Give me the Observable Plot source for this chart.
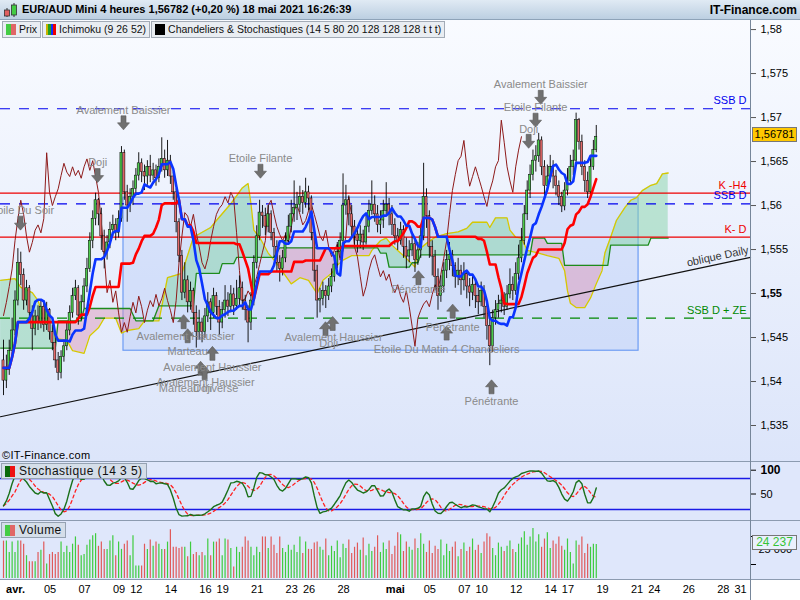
<!DOCTYPE html>
<html lang="fr"><head><meta charset="utf-8">
<script src="https://cdn.jsdelivr.net/npm/d3@7"></script>
<script src="https://cdn.jsdelivr.net/npm/@observablehq/plot@0.6"></script>
<style>
html,body{margin:0;padding:0}
body{width:800px;height:600px;overflow:hidden;position:relative;font-family:"Liberation Sans",Arial,sans-serif;background:#fff}
.abs{position:absolute}
svg{display:block}
#hdr{left:0;top:0;width:800px;height:20px;background:linear-gradient(#e0eaf4,#bccfe1);border-bottom:1px solid #8ea3b8;box-sizing:border-box}
#hdr .t{position:absolute;left:22px;top:3px;font-weight:bold;font-size:11px;color:#000;white-space:nowrap}
#hdr .r{position:absolute;right:3px;top:3px;font-weight:bold;font-size:12px;color:#000}
#main{left:0;top:20px;width:800px;height:441px;background:linear-gradient(#f9fbff,#dce5fa)}
#stoch{left:0;top:461px;width:800px;height:60px;background:#dfe7fb}
#vol{left:0;top:521px;width:800px;height:79px;background:linear-gradient(#dfe7fb 0,#dfe7fb 58px,#ffffff 58px)}
.sep{position:absolute;left:0;width:800px;height:1px;background:#8c9bb0}
#tabs{position:absolute;left:2px;top:21px;display:flex;gap:1px}
.tab{position:relative;height:17px;background:#e9edf2;border:1px solid #a3abb6;box-sizing:border-box;font-size:10.5px;line-height:15px;padding-left:16px;padding-right:3px;color:#111;white-space:nowrap}
.ptab{position:absolute;height:16px;background:#d5dee9;border:1px solid #95a2b2;box-sizing:border-box;font-size:12px;letter-spacing:0.45px;line-height:14px;padding-left:17px;padding-right:3px;color:#111;white-space:nowrap}
.ico{position:absolute;left:3px;top:2px;width:10px;height:11px}
.pbox{position:absolute;left:752px;width:45px;height:15px;box-sizing:border-box;border:1px solid #777;font-size:11px;line-height:13px;text-align:center}
</style></head><body>
<div id="main" class="abs"></div>
<div id="stoch" class="abs"></div>
<div id="vol" class="abs"></div>
<div class="sep" style="top:461px"></div>
<div class="sep" style="top:520px"></div>
<div class="sep" style="top:579px"></div>
<div class="abs" style="left:750px;top:20px;width:1px;height:580px;background:#76869a"></div>
<div id="hdr" class="abs">
  <svg class="abs" style="left:3px;top:2px" width="16" height="16"><line x1="4" y1="6" x2="4" y2="15" stroke="#333"/><rect x="1.5" y="8" width="5" height="6" fill="#e06060" stroke="#333" stroke-width="0.8"/><line x1="11" y1="1" x2="11" y2="15" stroke="#333"/><rect x="8.5" y="3" width="5" height="10" fill="#44cc44" stroke="#333" stroke-width="0.8"/></svg>
  <div class="t">EUR/AUD Mini 4 heures 1,56782 (+0,20 %) 18 mai 2021 16:26:39</div>
  <div class="r">IT-Finance.com</div>
</div>
<div id="tabs">
<div class="tab"><div class="ico" style="background:linear-gradient(90deg,#44cc44 50%,#e06666 50%)"></div>Prix</div>
<div class="tab"><div class="ico" style="background:linear-gradient(90deg,#c8b400 0 25%,#22a022 25% 50%,#1030ff 50% 75%,#ee0000 75%)"></div>Ichimoku (9 26 52)</div>
<div class="tab"><div class="ico" style="background:#000"></div>Chandeliers &amp; Stochastiques (14 5 80 20 128 128 128 t t t)</div>
</div>
<div class="abs" style="left:2px;top:449px;font-size:11px;letter-spacing:0.3px;color:#000">©IT-Finance.com</div>
<div class="ptab" style="left:1px;top:463px"><div class="ico" style="background:linear-gradient(90deg,#0a6a0a 50%,#ee1111 50%)"></div>Stochastique (14 3 5)</div>
<div class="ptab" style="left:1px;top:522px"><div class="ico" style="background:linear-gradient(90deg,#44cc44 50%,#e06666 50%)"></div>Volume</div>
<script>
// ---------- data (4h candles, Mar 31 08:00 -> May 18 16:00) ----------
const firstOpen = 1.5424;
const closes = [
1.5401,1.5413,1.5435,1.5458,1.5492,1.5535,1.5521,1.5492,1.5506,1.5478,
1.5460,1.5474,1.5467,1.5485,1.5464,1.5481,1.5456,1.5444,1.5424,1.5410,
1.5428,1.5440,1.5458,1.5478,1.5497,1.5506,1.5475,1.5490,1.5508,1.5528,
1.5560,1.5585,1.5606,1.5590,1.5565,1.5547,1.5558,1.5572,1.5578,1.5569,
1.5585,1.5660,1.5615,1.5600,1.5610,1.5619,1.5634,1.5648,1.5638,1.5633,
1.5644,1.5634,1.5640,1.5631,1.5644,1.5653,1.5640,1.5651,1.5633,1.5615,
1.5581,1.5543,1.5501,1.5515,1.5490,1.5503,1.5478,1.5456,1.5467,1.5456,
1.5474,1.5490,1.5478,1.5497,1.5485,1.5467,1.5481,1.5492,1.5485,1.5499,
1.5486,1.5494,1.5506,1.5492,1.5481,1.5467,1.5492,1.5535,1.5565,1.5592,
1.5588,1.5576,1.5590,1.5569,1.5553,1.5535,1.5528,1.5540,1.5560,1.5576,
1.5590,1.5597,1.5601,1.5610,1.5603,1.5615,1.5608,1.5569,1.5526,1.5492,
1.5494,1.5503,1.5497,1.5508,1.5519,1.5533,1.5547,1.5560,1.5600,1.5606,
1.5590,1.5576,1.5567,1.5560,1.5567,1.5558,1.5576,1.5594,1.5601,1.5590,
1.5578,1.5583,1.5594,1.5601,1.5590,1.5578,1.5565,1.5560,1.5572,1.5553,
1.5542,1.5549,1.5556,1.5538,1.5549,1.5565,1.5610,1.5588,1.5553,1.5542,
1.5519,1.5497,1.5508,1.5526,1.5538,1.5544,1.5531,1.5519,1.5526,1.5515,
1.5522,1.5508,1.5501,1.5510,1.5497,1.5490,1.5503,1.5485,1.5463,1.5440,
1.5472,1.5481,1.5488,1.5492,1.5485,1.5499,1.5510,1.5503,1.5522,1.5540,
1.5560,1.5590,1.5617,1.5635,1.5651,1.5656,1.5674,1.5644,1.5622,1.5633,
1.5644,1.5633,1.5622,1.5610,1.5599,1.5617,1.5628,1.5644,1.5651,1.5697,
1.5672,1.5644,1.5628,1.5615,1.5644,1.5663,1.56782];
const highs = [
1.5447,1.5430,1.5447,1.5472,1.5503,1.5551,1.5547,1.5528,1.5515,1.5509,
1.5486,1.5481,1.5486,1.5492,1.5492,1.5490,1.5483,1.5464,1.5452,1.5433,
1.5435,1.5447,1.5467,1.5486,1.5506,1.5515,1.5509,1.5498,1.5517,1.5540,
1.5569,1.5594,1.5614,1.5608,1.5597,1.5572,1.5566,1.5581,1.5589,1.5585,
1.5594,1.5667,1.5663,1.5623,1.5619,1.5628,1.5642,1.5660,1.5653,1.5646,
1.5651,1.5657,1.5648,1.5646,1.5653,1.5677,1.5663,1.5674,1.5657,1.5638,
1.5619,1.5585,1.5549,1.5535,1.5520,1.5513,1.5506,1.5486,1.5481,1.5472,
1.5483,1.5501,1.5494,1.5506,1.5501,1.5492,1.5490,1.5509,1.5501,1.5509,
1.5506,1.5515,1.5520,1.5513,1.5498,1.5486,1.5501,1.5543,1.5577,1.5606,
1.5600,1.5597,1.5600,1.5594,1.5574,1.5560,1.5543,1.5549,1.5569,1.5589,
1.5606,1.5628,1.5615,1.5622,1.5617,1.5631,1.5622,1.5611,1.5574,1.5532,
1.5506,1.5513,1.5509,1.5517,1.5528,1.5543,1.5558,1.5569,1.5636,1.5623,
1.5611,1.5600,1.5583,1.5574,1.5577,1.5572,1.5589,1.5606,1.5628,1.5611,
1.5600,1.5594,1.5606,1.5626,1.5608,1.5600,1.5585,1.5574,1.5581,1.5577,
1.5563,1.5560,1.5566,1.5560,1.5558,1.5576,1.5648,1.5619,1.5594,1.5560,
1.5549,1.5528,1.5520,1.5535,1.5549,1.5558,1.5549,1.5535,1.5540,1.5532,
1.5535,1.5526,1.5517,1.5520,1.5515,1.5506,1.5513,1.5509,1.5492,1.5472,
1.5481,1.5492,1.5498,1.5503,1.5501,1.5509,1.5528,1.5519,1.5535,1.5555,
1.5574,1.5600,1.5628,1.5646,1.5663,1.5668,1.5682,1.5678,1.5651,1.5646,
1.5657,1.5651,1.5640,1.5628,1.5615,1.5626,1.5642,1.5657,1.5663,1.5705,
1.5699,1.5680,1.5651,1.5638,1.5657,1.5674,1.5691];
const lows = [
1.5384,1.5392,1.5407,1.5430,1.5452,1.5486,1.5509,1.5481,1.5486,1.5469,
1.5435,1.5452,1.5458,1.5460,1.5456,1.5458,1.5447,1.5435,1.5415,1.5401,
1.5403,1.5422,1.5435,1.5452,1.5472,1.5492,1.5464,1.5469,1.5483,1.5501,
1.5524,1.5551,1.5577,1.5577,1.5549,1.5528,1.5538,1.5551,1.5565,1.5560,
1.5563,1.5581,1.5606,1.5581,1.5592,1.5600,1.5611,1.5628,1.5626,1.5617,
1.5623,1.5626,1.5628,1.5622,1.5626,1.5638,1.5631,1.5633,1.5624,1.5606,
1.5569,1.5535,1.5492,1.5494,1.5478,1.5481,1.5464,1.5438,1.5447,1.5444,
1.5449,1.5467,1.5458,1.5472,1.5475,1.5452,1.5460,1.5472,1.5474,1.5478,
1.5475,1.5481,1.5486,1.5481,1.5469,1.5444,1.5458,1.5486,1.5528,1.5560,
1.5574,1.5566,1.5569,1.5560,1.5540,1.5524,1.5513,1.5520,1.5535,1.5555,
1.5569,1.5581,1.5583,1.5592,1.5590,1.5597,1.5594,1.5560,1.5513,1.5472,
1.5478,1.5486,1.5483,1.5492,1.5501,1.5513,1.5528,1.5540,1.5555,1.5589,
1.5577,1.5563,1.5555,1.5546,1.5551,1.5549,1.5555,1.5569,1.5589,1.5581,
1.5569,1.5567,1.5574,1.5589,1.5577,1.5566,1.5555,1.5549,1.5555,1.5540,
1.5528,1.5535,1.5542,1.5524,1.5532,1.5540,1.5560,1.5574,1.5540,1.5520,
1.5503,1.5481,1.5490,1.5501,1.5517,1.5526,1.5519,1.5506,1.5509,1.5498,
1.5503,1.5494,1.5485,1.5492,1.5483,1.5476,1.5485,1.5472,1.5447,1.5418,
1.5433,1.5464,1.5472,1.5478,1.5475,1.5481,1.5494,1.5492,1.5498,1.5515,
1.5535,1.5555,1.5583,1.5608,1.5628,1.5638,1.5649,1.5634,1.5611,1.5615,
1.5626,1.5619,1.5611,1.5600,1.5592,1.5594,1.5611,1.5623,1.5634,1.5645,
1.5663,1.5634,1.5615,1.5608,1.5611,1.5640,1.5660];
const volumes = [
26700,26700,18600,26000,18600,26700,26700,24500,16300,11900,
11900,11900,18600,20100,26000,10400,17100,18600,17100,18600,
26000,18600,23000,18600,24500,29700,23800,16300,17100,23800,
27500,30500,32000,23000,26000,20800,20800,26700,30500,16300,
26000,20800,24500,26700,16300,30500,8900,8900,8900,24500,
20800,27500,23000,26000,24500,20800,20800,26000,34900,22300,
22300,21500,22300,22300,15600,26000,17100,18600,16300,18600,
16300,28200,16300,26000,26000,28200,16300,28200,27500,21500,
8200,22300,18600,22300,29700,26700,22300,16300,22300,18600,
29700,29700,21500,29700,23800,17800,29700,21500,18600,23800,
20100,23800,18600,29700,
17800,26000,20800,20800,25300,26000,22300,20100,28200,16300,
23000,19300,26700,14900,24500,21500,27500,17800,22300,25300,
20100,29000,16300,24500,19300,22300,30500,18600,25300,20800,
26700,17100,23000,32700,31200,19300,26000,22300,20100,28200,
21500,32000,24500,18600,26700,17800,23000,20800,27500,16300,
24500,19300,22300,26000,15600,20800,25300,19300,22300,28200,
20100,23800,17800,26000,32000,29700,21500,16300,25300,22300,
19300,23000,26700,20800,18600,24500,29000,33400,23800,29700,
35700,26000,31200,22300,28200,32700,21500,26700,24500,29700,
23000,20100,28200,18600,10400,26700,23800,29700,17800,24500,
22300,24500,24237];

// Ichimoku cloud lines (candle index, price), projected 26 candles ahead
const ssaIdx = [-1,4,6,10,12,14,17,18,22,24,28,30,33,35,39,41,43,47,49,54,57,62,66,72,74,79,83,85,86,87,89,92,95,100,103,106,109,111,114,116,118,121,127,128,131,133,135,137,140,143,144,147,150,154,158,161,163,168,169,171,175,176,178,180,182,186,189,193,195,196,197,199,202,204,206,208,209,211,213,216,218,220,222,225,227,229,231];
const ssaVal = [1.5515,1.5517,1.5507,1.5501,1.5492,1.5472,1.5467,1.5449,1.5447,1.5435,1.5432,1.5452,1.5461,1.5472,1.5472,1.5455,1.5458,1.5460,1.5469,1.5469,1.5518,1.5523,1.5564,1.5575,1.5583,1.5602,1.5620,1.5625,1.5602,1.5572,1.5564,1.5546,1.5534,1.5511,1.5518,1.5515,1.5500,1.5515,1.5523,1.5532,1.5538,1.5543,1.5543,1.5549,1.5560,1.5563,1.5555,1.5549,1.5540,1.5530,1.5549,1.5557,1.5564,1.5568,1.5570,1.5574,1.5581,1.5581,1.5575,1.5586,1.5586,1.5572,1.5564,1.5563,1.5549,1.5546,1.5543,1.5540,1.5526,1.5503,1.5489,1.5484,1.5484,1.5495,1.5511,1.5526,1.5546,1.5564,1.5583,1.5598,1.5606,1.5609,1.5617,1.5623,1.5625,1.5636,1.5637];
const ssbIdx = [-1,18,19,27,28,44,46,52,54,66,67,75,76,80,81,94,96,130,131,133,134,141,142,144,145,183,184,188,189,194,195,210,211,224,225,231];
const ssbVal = [1.5438,1.5438,1.5469,1.5469,1.5483,1.5483,1.5469,1.5469,1.5486,1.5486,1.5523,1.5523,1.5534,1.5534,1.5541,1.5541,1.5552,1.5552,1.5546,1.5546,1.5530,1.5530,1.5535,1.5535,1.5544,1.5544,1.5563,1.5563,1.5557,1.5557,1.5532,1.5532,1.5555,1.5555,1.5563,1.5563];

// Drawn levels
const levelPrices = [1.5710, 1.5614, 1.5602, 1.5564, 1.5472];
const levelLabels = ["SSB D", "K -H4", "SSB D", "K- D", "SSB D + ZE"];
const levelColors = ["#0000ee", "#ee0000", "#0000ee", "#ee0000", "#008800"];
const levelDashed = [true, false, true, false, true];
const obliqueIdx = [-1.04, 259.6];
const obliqueVal = [1.5360, 1.5541];
const zoneIdx = [41.7, 220.7];
const zoneVal = [1.5435, 1.5609];

// Candlestick pattern annotations
const downArrowIdx = [41.7, 32.7, 5.9, 89.3, 186.7, 184.9, 182.5];
const downArrowVal = [1.5694, 1.5634, 1.5580, 1.5639, 1.5723, 1.5697, 1.5673];
const downText = ["Avalement Baissier", "Doji", "Etoile Du Soir", "Etoile Filante", "Avalement Baissier", "Etoile Filante", "Doji"];
const downTextVal = [1.5708, 1.5649, 1.5594, 1.5653, 1.5738, 1.5711, 1.5686];
const upArrowIdx = [62.6, 64.0, 72.6, 68.5, 69.9, 111.9, 114.4, 144.2, 156.1, 154.0, 169.6];
const upArrowVal = [1.5468, 1.5452, 1.5432, 1.5415, 1.5410, 1.5460, 1.5466, 1.5518, 1.5480, 1.5455, 1.5394];
const upText = ["Avalement Haussier", "Marteau", "Avalement Haussier", "Avalement Haussier", "Marteau Inverse", "Doji", "Avalement Haussier", "Doji", "Pénétrante", "Pénétrante", "Etoile Du Matin 4 Chandeliers", "Pénétrante"];
const upTextIdx = [63.3, 64.0, 72.6, 70.2, 67.8, 69.2, 114.7, 113.0, 144.2, 156.1, 154.0, 169.6];
const upTextVal = [1.5451, 1.5434, 1.5416, 1.5399, 1.5392, 1.5392, 1.5450, 1.5443, 1.5505, 1.5461, 1.5436, 1.5377];

// Axis ticks
const priceTicks = [1.535, 1.54, 1.545, 1.555, 1.56, 1.565, 1.57, 1.575, 1.58];
const boldPriceTick = [1.55];
const tickLabels = ["avr.","05","07","09","12","14","16","19","21","23","26","28","mai","05","07","10","12","14","17","19","21","24","26","28","31"];
const tickTradingDay = [0,2,4,6,7,9,11,12,14,16,17,19,22,24,26,27,29,31,32,34,36,37,39,41,42];
const firstDayCandle = 4.17, candlesPerDay = 6;
const lastPriceLabel = "1,56781", lastPriceVal = 1.56781;
const lastVolumeLabel = "24 237";

// ---------- build ----------
const candles = closes.map((c, i) => {
  const o = i === 0 ? firstOpen : closes[i - 1];
  return {i, open: o, close: c, high: highs[i], low: lows[i], vol: volumes[i], up: c >= o};
});
function midWin(i, n) {
  const a = Math.max(0, i - n + 1);
  let h = -Infinity, l = Infinity;
  for (let k = a; k <= i; k++) { h = Math.max(h, highs[k]); l = Math.min(l, lows[k]); }
  return (h + l) / 2;
}
const tenkan = candles.map(d => ({i: d.i, p: midWin(d.i, 9)}));
const kijun = candles.map(d => ({i: d.i, p: midWin(d.i, 26)}));
const chikou = closes.slice(26).map((c, k) => ({i: k, p: c}));
// stochastic 14 3 5
const raw = candles.map(d => {
  const a = Math.max(0, d.i - 13);
  let h = -Infinity, l = Infinity;
  for (let k = a; k <= d.i; k++) { h = Math.max(h, highs[k]); l = Math.min(l, lows[k]); }
  return h === l ? 50 : (d.close - l) / (h - l) * 100;
});
const sma = (arr, n) => arr.map((v, i) => { const a = Math.max(0, i - n + 1); return d3.mean(arr.slice(a, i + 1)); });
const kLine = sma(raw, 3);
const dLine = sma(kLine, 5);
const stoch = candles.map((d, i) => ({i, k: kLine[i], d: dLine[i]}));

const ssaPts = ssaIdx.map((x, k) => ({i: x, p: ssaVal[k]}));
const ssbPts = ssbIdx.map((x, k) => ({i: x, p: ssbVal[k]}));
const ssaF = d3.scaleLinear().domain(ssaIdx).range(ssaVal);
const ssbF = d3.scaleLinear().domain(ssbIdx).range(ssbVal);
const cloud = d3.range(-1, 231.01, 0.2).map(x => ({i: x, a: ssaF(x), b: ssbF(x)}));

const xDomain = [-1.043, 259.6];
const X = {domain: xDomain, range: [0, 750], axis: null};
const fmtP = d => d.toFixed(3).replace(/0+$/, "").replace(".", ",");
const levels = levelPrices.map((p, k) => ({p, label: levelLabels[k], color: levelColors[k], dashed: levelDashed[k]}));
const oblique = obliqueIdx.map((x, k) => ({i: x, p: obliqueVal[k]}));
const arrowDown = {draw(c) { c.moveTo(-2.5,-7); c.lineTo(2.5,-7); c.lineTo(2.5,0); c.lineTo(6,0); c.lineTo(0,7); c.lineTo(-6,0); c.lineTo(-2.5,0); c.closePath(); }};
const arrowUp = {draw(c) { c.moveTo(-2.5,7); c.lineTo(2.5,7); c.lineTo(2.5,0); c.lineTo(6,0); c.lineTo(0,-7); c.lineTo(-6,0); c.lineTo(-2.5,0); c.closePath(); }};
const dArrows = downArrowIdx.map((x, k) => ({i: x, p: downArrowVal[k]}));
const dTexts = downText.map((t, k) => ({i: downArrowIdx[k], p: downTextVal[k], t}));
const uArrows = upArrowIdx.map((x, k) => ({i: x, p: upArrowVal[k]}));
const uTexts = upText.map((t, k) => ({i: upTextIdx[k], p: upTextVal[k], t}));
const annoFont = {fill: "#8a8a8a", fontSize: 11, fontFamily: "Liberation Sans, Arial, sans-serif"};

const main = Plot.plot({
  width: 800, height: 441, marginLeft: 0, marginRight: 50, marginTop: 0, marginBottom: 0,
  style: {background: "transparent", fontFamily: "Liberation Sans, Arial, sans-serif"},
  x: X,
  y: {domain: [1.53091, 1.58103], range: [441, 0], axis: null},
  marks: [
    Plot.rect([0], {x1: () => zoneIdx[0], x2: () => zoneIdx[1], y1: () => zoneVal[0], y2: () => zoneVal[1], fill: "#a9c1f7", fillOpacity: 0.32, stroke: "#6d9cf3", strokeWidth: 1.2}),
    Plot.areaY(cloud, {x: "i", y1: "b", y2: d => Math.max(d.a, d.b), fill: "#86d3a8", fillOpacity: 0.5}),
    Plot.areaY(cloud, {x: "i", y1: "a", y2: d => Math.max(d.a, d.b), fill: "#de93b4", fillOpacity: 0.45}),
    Plot.line(ssaPts, {x: "i", y: "p", stroke: "#d6c800", strokeWidth: 1.3}),
    Plot.line(ssbPts, {x: "i", y: "p", stroke: "#1c8c1c", strokeWidth: 1.3}),
    Plot.ruleY(levels.filter(d => d.dashed), {y: "p", stroke: "color", strokeWidth: 1.2, strokeDasharray: "10,9"}),
    Plot.ruleY(levels.filter(d => !d.dashed), {y: "p", stroke: "color", strokeWidth: 1.2}),
    Plot.line(oblique, {x: "i", y: "p", stroke: "#111", strokeWidth: 1.2}),
    Plot.line(chikou, {x: "i", y: "p", stroke: "#8e1a1a", strokeWidth: 1}),
    Plot.ruleX(candles, {x: "i", y1: "low", y2: "high", stroke: "#000", strokeWidth: 0.9}),
    Plot.rect(candles, {x1: d => d.i - 0.37, x2: d => d.i + 0.37, y1: "open", y2: "close", fill: d => d.up ? "#4ccb4c" : "#e46a6a", stroke: "#000", strokeWidth: 0.5}),
    Plot.line(kijun, {x: "i", y: "p", stroke: "#ff0000", strokeWidth: 2.6}),
    Plot.line(tenkan, {x: "i", y: "p", stroke: "#0a34ff", strokeWidth: 2.6}),
    Plot.dot(dArrows, {x: "i", y: "p", symbol: arrowDown, fill: "#707070", stroke: "#5a5a5a", strokeWidth: 0.6}),
    Plot.dot(uArrows, {x: "i", y: "p", symbol: arrowUp, fill: "#707070", stroke: "#5a5a5a", strokeWidth: 0.6}),
    Plot.text(dTexts, {x: "i", y: "p", text: "t", ...annoFont}),
    Plot.text(uTexts, {x: "i", y: "p", text: "t", ...annoFont}),
    Plot.text(levels, {x: () => xDomain[1], y: "p", text: "label", fill: "color", fontSize: 11, textAnchor: "end", dx: -4, dy: -8}),
    Plot.text([0], {x: () => 248.2, y: () => obliqueVal[0] + (obliqueVal[1] - obliqueVal[0]) * (248.2 - obliqueIdx[0]) / (obliqueIdx[1] - obliqueIdx[0]), text: () => "oblique Daily", rotate: -12, dy: -8, fontSize: 11, fill: "#333"}),
    Plot.axisY(priceTicks, {anchor: "right", tickFormat: fmtP, tickSize: 5, tickPadding: 5, fontSize: 11, fill: "#000", stroke: "#555", label: null}),
    Plot.axisY(boldPriceTick, {anchor: "right", tickFormat: fmtP, tickSize: 5, tickPadding: 5, fontSize: 11, fontWeight: "bold", fill: "#000", stroke: "#555", label: null})
  ]
});
document.getElementById("main").appendChild(main);
const yTop = main.scale("y").apply(lastPriceVal);
const pb = document.createElement("div");
pb.className = "pbox"; pb.style.top = (20 + yTop - 9) + "px"; pb.style.background = "#ffc800"; pb.textContent = lastPriceLabel;
document.body.appendChild(pb);

const st = Plot.plot({
  width: 800, height: 60, marginLeft: 0, marginRight: 50, marginTop: 0, marginBottom: 0,
  style: {background: "transparent", fontFamily: "Liberation Sans, Arial, sans-serif"},
  x: X,
  y: {domain: [0, 100], range: [58.3, 6.7], axis: null},
  marks: [
    Plot.ruleY([80, 20], {stroke: "#1a1ae6", strokeWidth: 1.5}),
    Plot.line(stoch, {x: "i", y: "d", stroke: "#ff2222", strokeWidth: 1.3, strokeDasharray: "3,3"}),
    Plot.line(stoch, {x: "i", y: "k", stroke: "#1a701a", strokeWidth: 1.4}),
    Plot.axisY([100], {anchor: "right", tickSize: 5, tickPadding: 5, fontSize: 12, fontWeight: "bold", fill: "#000", dy: 2, label: null}),
    Plot.axisY([50], {anchor: "right", tickSize: 5, tickPadding: 5, fontSize: 11, fill: "#000", label: null})
  ]
});
document.getElementById("stoch").appendChild(st);

const tickPos = tickTradingDay.map(d => firstDayCandle + candlesPerDay * d);
const tickMap = new Map(tickPos.map((p, k) => [p, tickLabels[k]]));
const vp = Plot.plot({
  width: 800, height: 79, marginLeft: 0, marginRight: 50, marginTop: 0, marginBottom: 21,
  style: {background: "transparent", fontFamily: "Liberation Sans, Arial, sans-serif"},
  x: X,
  y: {domain: [0, 40000], range: [57, 1], axis: null},
  marks: [
    Plot.ruleX(candles, {x: "i", y1: 0, y2: "vol", stroke: d => d.up ? "#3fcc3f" : "#e05a5a", strokeWidth: 1.2}),
    Plot.axisY([10000, 30000], {anchor: "right", tickSize: 5, tickFormat: () => "", label: null}),
    Plot.text([25000], {x: () => xDomain[1], y: d => d, text: () => "25 000", dx: 8, dy: 6, textAnchor: "start", fontSize: 11, fill: "#000"}),
    Plot.axisX(tickPos.filter(p => !/[a-z]/.test(tickMap.get(p))), {anchor: "bottom", tickFormat: p => tickMap.get(p), tickSize: 0, tickPadding: 6, fontSize: 11, fill: "#000", label: null}),
    Plot.axisX(tickPos.filter(p => /[a-z]/.test(tickMap.get(p))), {anchor: "bottom", tickFormat: p => tickMap.get(p), tickSize: 0, tickPadding: 6, fontSize: 11, fontWeight: "bold", fill: "#000", label: null})
  ]
});
document.getElementById("vol").appendChild(vp);
const vTop = vp.scale("y").apply(volumes[volumes.length - 1]);
const vb = document.createElement("div");
vb.className = "pbox"; vb.style.top = (521 + vTop - 9) + "px"; vb.style.background = "#eaf0fd"; vb.style.color = "#35c435"; vb.style.fontSize = "12px"; vb.textContent = lastVolumeLabel;
document.body.appendChild(vb);
</script>
</body></html>
